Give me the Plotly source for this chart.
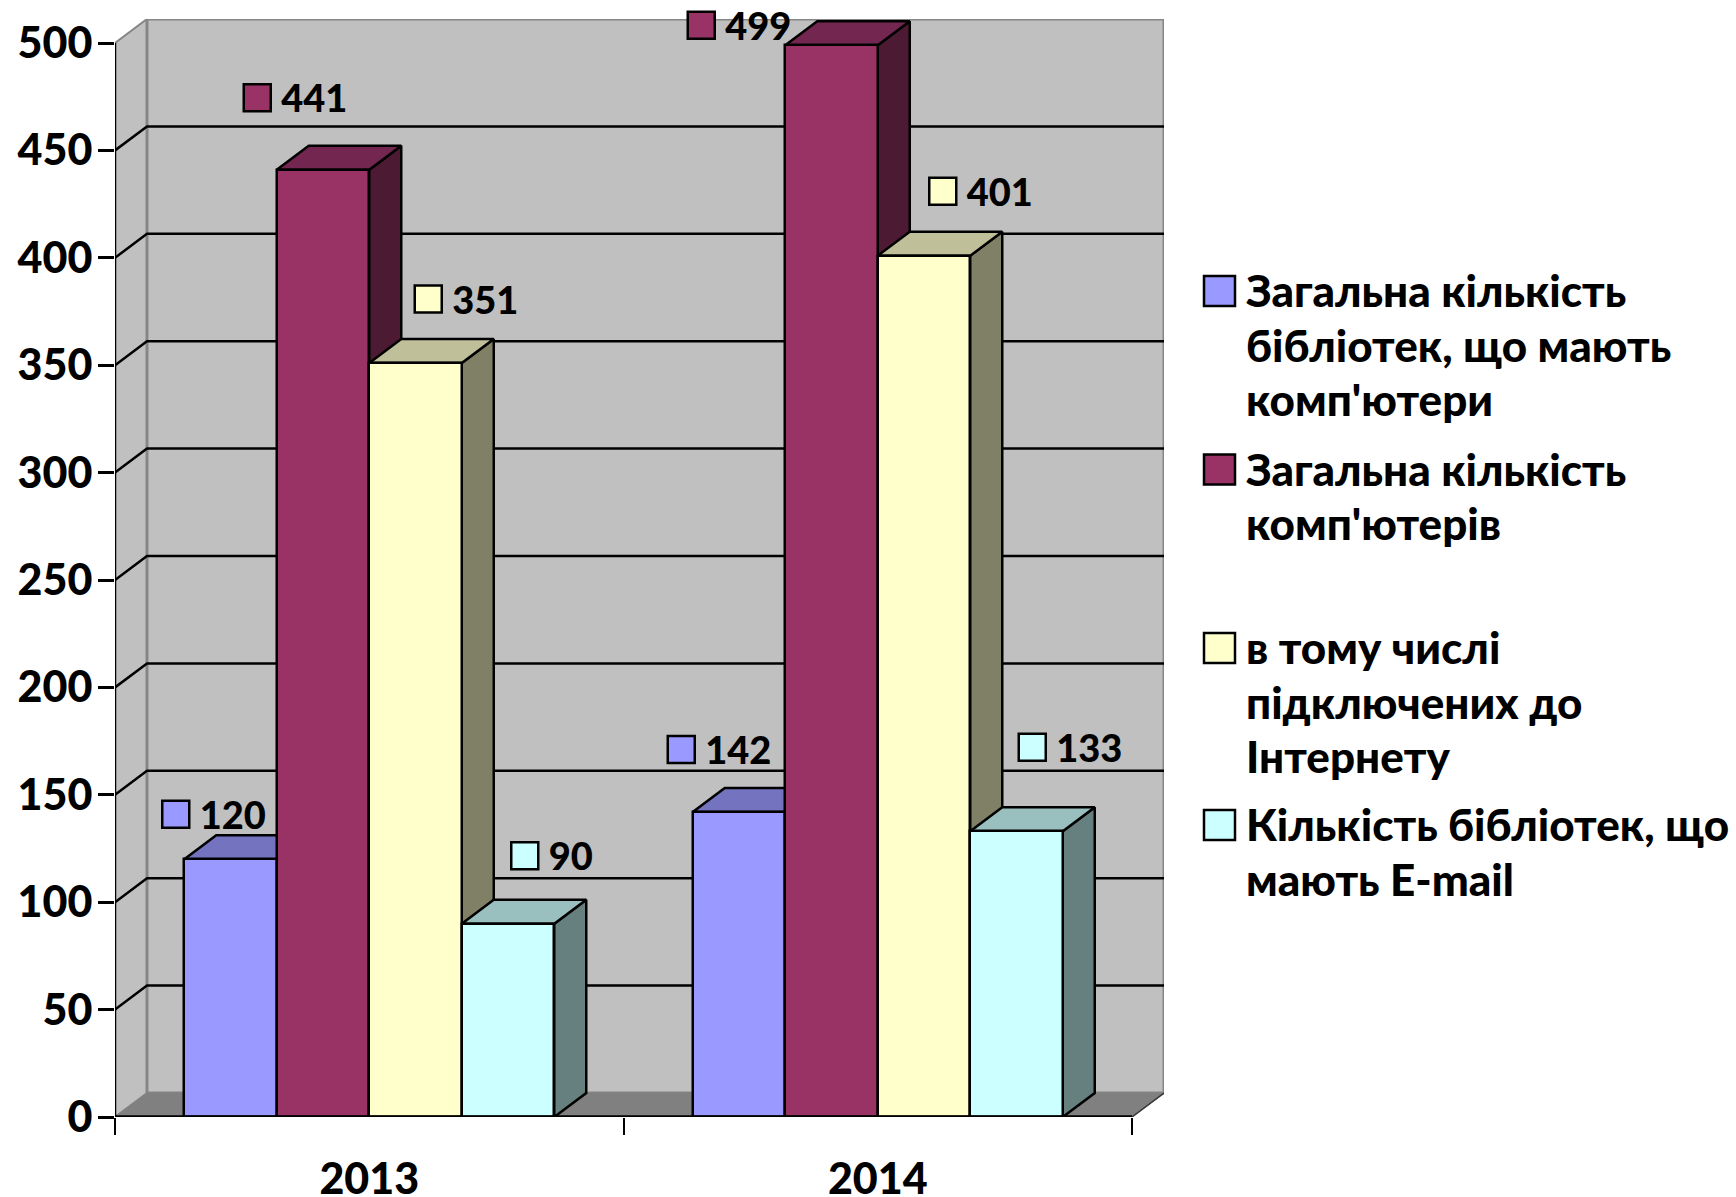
import plotly.graph_objects as go

# ---- data ----
years = ["2013", "2014"]
series_names = [
    "Загальна кількість бібліотек, що мають комп'ютери",
    "Загальна кількість комп'ютерів",
    "в тому числі підключених до Інтернету",
    "Кількість бібліотек, що мають E-mail",
]
libs_with_computers = [120, 142]
total_computers = [441, 499]
connected_to_internet = [351, 401]
libs_with_email = [90, 133]
y_ticks = [0, 50, 100, 150, 200, 250, 300, 350, 400, 450, 500]

# ---- style ----
legend_lines = [
    ["Загальна кількість", "бібліотек, що мають", "комп'ютери"],
    ["Загальна кількість", "комп'ютерів"],
    ["в тому числі", "підключених до", "Інтернету"],
    ["Кількість бібліотек, що", "мають E-mail"],
]
front_colors = ["#9999FF", "#993366", "#FFFFCC", "#CCFFFF"]
top_colors = ["#7373BF", "#732650", "#BFBF99", "#99BFBF"]
side_colors = ["#4D4D80", "#4D1A33", "#808066", "#668080"]
FONT = "Lato"
WEIGHT = 900
LABEL_FS = 38
TICK_FS = 43
LEG_FS = 44
LW = 2.5

X0, X1, Y0, Y1 = 115, 1164, 1117, 19  # plot box in page pixels
PX_PER_CAT = 508.5
PX_PER_UNIT = 2.148
DEPTH_X = 32 / PX_PER_CAT
DEPTH_Y = 24 / PX_PER_UNIT
BAR_W = 92.5 / PX_PER_CAT
GAP = (1 - 4 * BAR_W) / 2
X_MAX = 2 + DEPTH_X
Y_MAX = 500 + DEPTH_Y

# label key offsets from each bar's top-left front corner, in pixels
label_offsets = [
    [(-8.5, -45), (-11.5, -62.5)],
    [(-19.5, -72), (-84, -20)],
    [(59, -64), (65, -64.5)],
    [(63, -68), (62, -84)],
]
TEXT_DX, TEXT_DY = 24, 5  # label text relative to its key

all_series = [libs_with_computers, total_computers, connected_to_internet, libs_with_email]
fig = go.Figure()


def poly(xs, ys, fill=None, line="black", width=LW, axes=("x", "y")):
    fig.add_trace(go.Scatter(
        x=xs, y=ys, mode="lines", showlegend=False, hoverinfo="skip", cliponaxis=False,
        fill="toself" if fill else None, fillcolor=fill,
        line=dict(color=line, width=width), xaxis=axes[0], yaxis=axes[1],
    ))


GREY = "#868686"
# walls and floor
poly([0, DEPTH_X, DEPTH_X, 0, 0], [0, DEPTH_Y, Y_MAX, 500, 0], fill="#C0C0C0", line=GREY, width=2)
poly([DEPTH_X, X_MAX, X_MAX, DEPTH_X, DEPTH_X], [DEPTH_Y, DEPTH_Y, Y_MAX, Y_MAX, DEPTH_Y], fill="#C0C0C0", line=GREY, width=3)
poly([0, DEPTH_X, X_MAX, 2, 0], [0, DEPTH_Y, DEPTH_Y, 0, 0], fill="#808080", line="#808080", width=1)
# gridlines
for v in y_ticks[1:-1]:
    poly([0, DEPTH_X, X_MAX], [v, v + DEPTH_Y, v + DEPTH_Y])
poly([2, X_MAX], [0, DEPTH_Y], line="#333333", width=1.5)

# bar sides and tops
for c in range(2):
    for s, vals in enumerate(all_series):
        left = c + GAP + s * BAR_W
        right = left + BAR_W
        v = vals[c]
        poly([right, right + DEPTH_X, right + DEPTH_X, right, right],
             [0, DEPTH_Y, v + DEPTH_Y, v, 0], fill=side_colors[s])
        poly([left, left + DEPTH_X, right + DEPTH_X, right, left],
             [v, v + DEPTH_Y, v + DEPTH_Y, v, v], fill=top_colors[s])

# bar fronts on the overlay axes
for s, vals in enumerate(all_series):
    fig.add_trace(go.Bar(
        x=[c + GAP + s * BAR_W for c in range(2)], y=vals, width=BAR_W, offset=0,
        name=series_names[s], showlegend=False, xaxis="x2", yaxis="y2",
        marker=dict(color=front_colors[s], line=dict(color="black", width=LW)),
    ))

# axis lines
poly([0, 0], [0, 500], axes=("x2", "y2"))
poly([0, 2], [0, 0], width=3.5, axes=("x2", "y2"))

# data labels with their keys
for s, vals in enumerate(all_series):
    xs, ys = [], []
    for c, v in enumerate(vals):
        ox, oy = label_offsets[s][c]
        xs.append(c + GAP + s * BAR_W + ox / PX_PER_CAT)
        ys.append(v - oy / PX_PER_UNIT)
    fig.add_trace(go.Scatter(
        x=xs, y=ys, mode="markers",
        cliponaxis=False, showlegend=False, hoverinfo="skip", xaxis="x2", yaxis="y2",
        marker=dict(symbol="square", size=27, color=front_colors[s], line=dict(color="black", width=LW)),
    ))
    fig.add_trace(go.Scatter(
        x=[x + TEXT_DX / PX_PER_CAT for x in xs], y=[y - TEXT_DY / PX_PER_UNIT for y in ys],
        mode="text", text=[str(v) for v in vals], textposition="middle right",
        cliponaxis=False, showlegend=False, hoverinfo="skip", xaxis="x2", yaxis="y2",
        textfont=dict(family=FONT, size=LABEL_FS, weight=WEIGHT, color="black"),
    ))


def px(x):
    return (x - X0) / (X1 - X0)


def py(y):
    return (Y0 - y) / (Y0 - Y1)


# legend
shapes = []
annotations = []
key_centers = [291, 469.5, 648, 825]
for s, lines in enumerate(legend_lines):
    yc = key_centers[s]
    shapes.append(dict(type="rect", xref="paper", yref="paper",
                       x0=px(1204), x1=px(1235), y0=py(yc + 15), y1=py(yc - 15),
                       fillcolor=front_colors[s], line=dict(color="black", width=LW)))
    for i, t in enumerate(lines):
        annotations.append(dict(xref="paper", yref="paper", x=px(1244), y=py(yc - 1 + i * 54.6),
                                text=t, showarrow=False, xanchor="left", yanchor="middle",
                                align="left",
                                font=dict(family=FONT, size=LEG_FS, weight=WEIGHT, color="black")))

tickfont = dict(family=FONT, size=TICK_FS, weight=WEIGHT, color="black")
fig.update_layout(
    width=1736, height=1197,
    margin=dict(l=X0, r=1736 - X1, t=Y1, b=1197 - Y0, pad=0, autoexpand=False),
    paper_bgcolor="white", plot_bgcolor="white", barmode="overlay", bargap=0,
    showlegend=False, shapes=shapes, annotations=annotations,
    xaxis=dict(range=[0, X_MAX], tickmode="array", tickvals=[0.5, 1.5], ticktext=years,
               ticks="", showgrid=False, zeroline=False, showline=False, tickfont=tickfont,
               ticklabelstandoff=33,
               minor=dict(tickmode="array", tickvals=[0, 1, 2], ticks="outside", ticklen=17,
                          tickwidth=2, tickcolor="black", showgrid=False)),
    yaxis=dict(range=[0, Y_MAX], tickmode="array", tickvals=y_ticks, ticks="outside", ticklen=16,
               tickwidth=LW, tickcolor="black", showgrid=False, zeroline=False, showline=False,
               tickfont=tickfont, ticklabelstandoff=-3),
    xaxis2=dict(range=[0, X_MAX], overlaying="x", visible=False),
    yaxis2=dict(range=[0, Y_MAX], overlaying="y", visible=False),
)
fig.write_html("out.html", config={"displayModeBar": False},
               post_script="document.body.style.margin='0';")
